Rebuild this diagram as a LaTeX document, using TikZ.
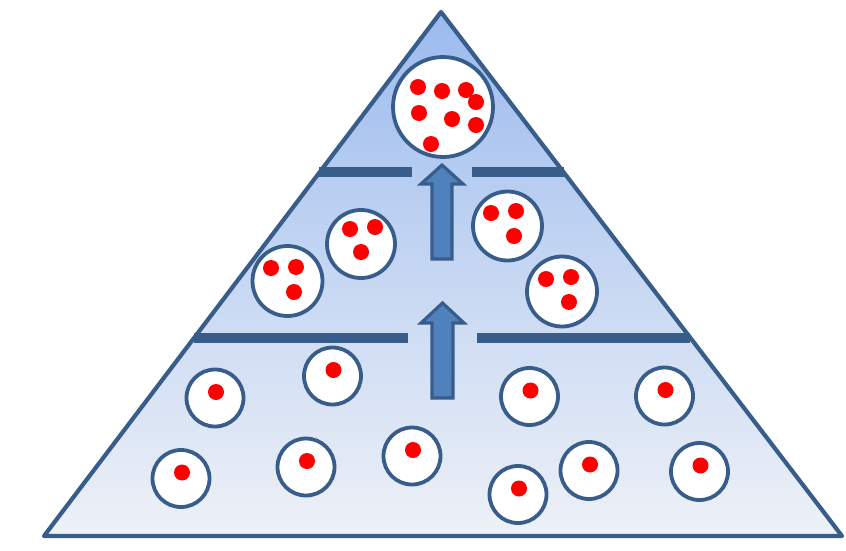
\documentclass[tikz,border=0pt]{standalone}
\usetikzlibrary{calc}
\definecolor{edge}{RGB}{56,93,138}
\definecolor{arrowfill}{RGB}{79,129,189}
\definecolor{dotred}{RGB}{255,0,0}
\definecolor{topblue}{RGB}{155,186,238}
\definecolor{midblue}{RGB}{198,215,243}
\definecolor{botblue}{RGB}{238,241,247}
\tikzset{
  cell/.style={circle, draw=edge, fill=white, line width=3.8pt, inner sep=0pt, minimum size=#1},
  dot/.style={circle, fill=dotred, inner sep=0pt, minimum size=16pt},
  bar/.style={draw=edge, line width=9.5pt, line cap=butt},
  blockarrow/.style={draw=edge, fill=arrowfill, line width=3.2pt, line join=miter},
  pyramid/.style={draw=edge, line width=4.2pt, line join=round}
}
\begin{document}
\begin{tikzpicture}[x=1pt, y=-1pt]
\useasboundingbox (0,0) rectangle (846,550);
% pyramid
\coordinate (apex) at (441,12);
\coordinate (bl) at (44,536);
\coordinate (br) at (842,536);
\shade[top color=topblue, bottom color=botblue, middle color=midblue] (apex) -- (bl) -- (br) -- cycle;
\draw[pyramid] (apex) -- (bl) -- (br) -- cycle;
% tier separators
\coordinate (t1a) at (319,172); \coordinate (t1b) at (412,172);
\coordinate (t1c) at (472,172); \coordinate (t1d) at (564,172);
\coordinate (t2a) at (194,338); \coordinate (t2b) at (408,338);
\coordinate (t2c) at (477,338); \coordinate (t2d) at (690,338);
\draw[bar] (t1a) -- (t1b);
\draw[bar] (t1c) -- (t1d);
\draw[bar] (t2a) -- (t2b);
\draw[bar] (t2c) -- (t2d);
% block arrows
\draw[blockarrow] (432,259) -- (432,184) -- (421,184) -- (442,165) -- (463,184) -- (452,184) -- (452,259) -- cycle;
\draw[blockarrow] (432,398) -- (432,323) -- (421,323) -- (442.5,303) -- (464,323) -- (453,323) -- (453,398) -- cycle;
% top cell
\node[cell=100pt] (top) at (443,107) {};
\node[dot] (t1) at (418,87) {};
\node[dot] (t2) at (442,91) {};
\node[dot] (t3) at (466,90) {};
\node[dot] (t4) at (476,102) {};
\node[dot] (t5) at (419,113) {};
\node[dot] (t6) at (452,119) {};
\node[dot] (t7) at (476,125) {};
\node[dot] (t8) at (431,144) {};
% middle cells
\node[cell=70pt] (ma) at (287.5,281) {};
\node[dot] (ma1) at (271,268) {};
\node[dot] (ma2) at (296,267) {};
\node[dot] (ma3) at (294,292) {};
\node[cell=68pt] (mb) at (361,244) {};
\node[dot] (mb1) at (350,229) {};
\node[dot] (mb2) at (375,227) {};
\node[dot] (mb3) at (361,252) {};
\node[cell=69pt] (mc) at (507.5,226) {};
\node[dot] (mc1) at (491,213) {};
\node[dot] (mc2) at (516,211) {};
\node[dot] (mc3) at (514,236) {};
\node[cell=70pt] (md) at (562,291.5) {};
\node[dot] (md1) at (546,279) {};
\node[dot] (md2) at (571,277) {};
\node[dot] (md3) at (569,302) {};
% bottom cells
\foreach \n/\x/\y in {b1/215/398, b2/332.5/376, b3/529.5/396.5, b4/664.5/396,
                      b5/181/478.5, b6/306/467, b7/412/456, b8/518/494.5,
                      b9/589/470.5, b10/699.5/471.5}{
  \node[cell=57pt] (\n) at (\x,\y) {};
  \node[dot] (\n d) at ($(\n)+(1,-6)$) {};
}
\end{tikzpicture}
\end{document}
